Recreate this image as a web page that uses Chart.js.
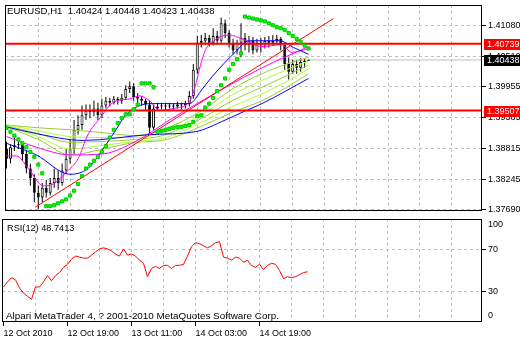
<!DOCTYPE html>
<html><head><meta charset="utf-8">
<script src="https://cdn.jsdelivr.net/npm/chart.js@4.4.1/dist/chart.umd.min.js"></script>
<style>
html,body{margin:0;padding:0;background:#fff;}
#wrap{position:relative;width:520px;height:340px;overflow:hidden;background:#fff;}
canvas{position:absolute;left:0;}
#c1{top:0}
#c2{top:216px}
.t{position:absolute;font-family:'Liberation Sans',Arial,sans-serif;color:#000;white-space:pre;line-height:13px;}
</style></head><body>
<div id="wrap">
<canvas id="c1" width="520" height="216"></canvas>
<canvas id="c2" width="520" height="124"></canvas>
<div class="t" id="title" style="left:7px;top:4px;font-size:9.6px"></div>
<div class="t" id="rsiLabel" style="left:7px;top:222px;font-size:9.2px"></div>
<div class="t" id="copy" style="left:6px;top:309px;font-size:9.9px"></div>
</div>
<script>
// ---------- DATA ----------
const symbol = 'EURUSD,H1';
const copyright = 'Alpari MetaTrader 4, ? 2001-2010 MetaQuotes Software Corp.';
const rsiPeriod = 12;
const timeLabels = ['12 Oct 2010','12 Oct 19:00','13 Oct 11:00','14 Oct 03:00','14 Oct 19:00'];
const timeLabelBars = [0,16,32,48,64];
const priceTicks = [1.37690,1.38245,1.38815,1.39385,1.39955,1.40510,1.41080];
const rsiTickValues = [30,70];
const rsiEdgeLabels = [0,100];
const levelLines = [1.40739,1.39507];
const bidPrice = 1.40438;

const opens = [1.38798,1.38620,1.38834,1.38869,1.38887,1.38709,1.38442,1.38264,1.37997,1.37908,
1.38086,1.37997,1.38175,1.38264,1.38175,1.38406,1.38620,1.38798,1.39154,1.39243,
1.39421,1.39510,1.39474,1.39546,1.39421,1.39599,1.39688,1.39652,1.39724,1.39688,
1.39741,1.39902,1.39955,1.39759,1.39724,1.39688,1.39617,1.39190,1.39546,1.39581,
1.39599,1.39581,1.39599,1.39581,1.39617,1.39599,1.39635,1.39777,1.40258,1.40756,
1.40792,1.40845,1.40756,1.40880,1.40792,1.41112,1.40934,1.40756,1.40614,1.40756,
1.40845,1.40720,1.40792,1.40614,1.40756,1.40720,1.40792,1.40756,1.40792,1.40827,
1.40720,1.40364,1.40222,1.40364,1.40293,1.40400,1.40424];
const highs = [1.38940,1.38887,1.39012,1.38940,1.38887,1.38762,1.38531,1.38335,1.38122,1.38175,
1.38228,1.38264,1.38442,1.38406,1.38531,1.38798,1.38976,1.39332,1.39421,1.39599,
1.39617,1.39617,1.39688,1.39652,1.39724,1.39759,1.39741,1.39777,1.39759,1.39813,
1.39973,1.40044,1.40008,1.39830,1.39777,1.39724,1.39688,1.39617,1.39652,1.39652,
1.39635,1.39652,1.39635,1.39670,1.39652,1.39688,1.39866,1.40364,1.40880,1.40898,
1.40934,1.40898,1.41023,1.40970,1.41219,1.41183,1.40987,1.40827,1.40809,1.41112,
1.40934,1.40880,1.40863,1.40827,1.40845,1.40863,1.40880,1.40898,1.40898,1.40863,
1.40756,1.40489,1.40436,1.40436,1.40471,1.40453,1.40448];
const lows = [1.38442,1.38531,1.38762,1.38798,1.38584,1.38353,1.38122,1.37819,1.37694,1.37819,
1.37908,1.37944,1.38086,1.38050,1.38122,1.38353,1.38531,1.38709,1.39065,1.39154,
1.39332,1.39368,1.39403,1.39332,1.39368,1.39546,1.39581,1.39617,1.39617,1.39635,
1.39706,1.39830,1.39688,1.39652,1.39599,1.39510,1.39065,1.39154,1.39510,1.39528,
1.39510,1.39546,1.39510,1.39546,1.39528,1.39546,1.39581,1.39724,1.40186,1.40667,
1.40720,1.40685,1.40703,1.40720,1.40756,1.40845,1.40667,1.40542,1.40542,1.40489,
1.40614,1.40578,1.40542,1.40578,1.40578,1.40649,1.40667,1.40703,1.40720,1.40614,
1.40258,1.40080,1.40186,1.40186,1.40222,1.40293,1.40423];
const closes = [1.38620,1.38834,1.38869,1.38887,1.38709,1.38442,1.38264,1.37997,1.37908,1.38086,
1.37997,1.38175,1.38264,1.38175,1.38406,1.38620,1.38798,1.39154,1.39243,1.39421,
1.39510,1.39474,1.39546,1.39421,1.39599,1.39688,1.39652,1.39724,1.39688,1.39741,
1.39902,1.39955,1.39759,1.39724,1.39688,1.39617,1.39190,1.39546,1.39581,1.39599,
1.39581,1.39599,1.39581,1.39617,1.39599,1.39635,1.39777,1.40258,1.40756,1.40792,
1.40845,1.40756,1.40880,1.40792,1.41112,1.40934,1.40756,1.40614,1.40756,1.40845,
1.40720,1.40792,1.40614,1.40756,1.40720,1.40792,1.40756,1.40792,1.40827,1.40720,
1.40364,1.40222,1.40364,1.40293,1.40400,1.40424,1.40438];
const sar = [1.39190,1.39118,1.39047,1.38976,1.38905,1.38834,1.38745,1.38656,1.38513,1.38353,
1.37748,1.37748,1.37766,1.37801,1.37837,1.37872,1.37944,1.38033,1.38157,1.38300,
1.38442,1.38513,1.38584,1.38656,1.38745,1.38851,1.39012,1.39154,1.39279,1.39368,
1.39439,1.39439,1.39528,1.39617,1.40008,1.40008,1.40008,1.39937,1.39118,1.39136,
1.39154,1.39172,1.39190,1.39207,1.39207,1.39225,1.39243,1.39296,1.39403,1.39421,
1.39563,1.39635,1.39741,1.39866,1.39973,1.40098,1.40258,1.40364,1.40453,1.40560,
1.41237,1.41219,1.41201,1.41183,1.41166,1.41148,1.41112,1.41077,1.41041,1.41023,
1.40988,1.40934,1.40881,1.40827,1.40774,1.40703,1.40649];
const rsi = [34,39,43,41,33,28,25,22,34,34,
39,45,40,45,48,53,56,61,64,63,
62,62,65,68,71,72,71,69,66,64,
71,65,66,64,60,57,44,52,54,52,
55,55,52,55,55,56,64,73,77,76,
74,72,74,77,78,63,62,60,63,62,
58,60,55,53,56,51,55,57,56,50,
42,44,43,44,46,48,48.7413];

// moving averages read at selected bars
const maFastBars = [0,2.5,5.5,9.25,11.75,15.5,18,20.5,23.5,26.75,31,33.5,36,38.5,42,46,47.5,48.5,50,52.5,56,59.25,64.25,69.25,71.75,76];
const maFastVals = [1.38673,1.38673,1.38442,1.38122,1.38157,1.38406,1.38620,1.39065,1.39368,1.39652,1.39724,1.39777,1.39688,1.39510,1.39546,1.39670,1.39955,1.40258,1.40614,1.40809,1.40898,1.40827,1.40685,1.40720,1.40578,1.40649];
const maMidBars = [0,7.5,16,20.5,24.25,26.75,30,33.5,36.75,46,49.25,51.75,57.5,61,68.75,72.25,76];
const maMidVals = [1.38905,1.38691,1.38335,1.38442,1.38798,1.39065,1.39421,1.39599,1.39635,1.39635,1.39902,1.40133,1.40578,1.40792,1.40792,1.40667,1.40542];
const maSlowBars = [0,7.5,19.25,36,47.5,55,59.25,64.25,76];
const maSlowVals = [1.39207,1.39083,1.38958,1.39065,1.39118,1.39332,1.39474,1.39635,1.40098];
const maPinkBars = [0,7.5,16,24.25,32.5,41,45,64.25,76];
const maPinkVals = [1.39029,1.38834,1.38691,1.38709,1.38940,1.39332,1.39510,1.40293,1.40685];
const ribbonBars = [0,8,16,24.25,32.5,39.25,49.25,56.75,64.25,70.5,76];
const ribbon1 = [1.39243,1.39190,1.39154,1.39100,1.39047,1.39154,1.39510,1.39902,1.40186,1.40364,1.40489];
const ribbon2 = [1.39243,1.39136,1.39029,1.39012,1.39012,1.39100,1.39439,1.39795,1.40062,1.40258,1.40418];
const ribbon3 = [1.39225,1.39083,1.38922,1.38940,1.38976,1.39047,1.39368,1.39688,1.39937,1.40151,1.40347];
const ribbon4 = [1.39225,1.39029,1.38798,1.38869,1.38940,1.38994,1.39296,1.39581,1.39813,1.40044,1.40275];
const ribbon5 = [1.39207,1.38976,1.38691,1.38798,1.38922,1.38958,1.39225,1.39474,1.39688,1.39937,1.40186];
const trendBars = [7.25,82.25];
const trendVals = [1.37730,1.41201];

// ---------- LAYOUT / STYLE ----------
const FONT = "'Liberation Sans',Arial,sans-serif";
const AXIS_FONT = 9;
const GRID = '#c0c0c0';
const CLEAR = 'rgba(0,0,0,0)';
const xMin = -0.375, xMax = 119.625;
const yMin = 1.37659, yMax = 1.41450;
const gridBars = [];
for (let b = 0; b <= 112; b += 8) gridBars.push(b);

const idx = opens.map((_, i) => i);
const pts = (bars, vals) => bars.map((b, i) => ({x: b, y: vals[i]}));
const maLine = (bars, vals, color, order) => ({
  type: 'line', data: pts(bars, vals), borderColor: color, borderWidth: 1,
  pointRadius: 0, fill: false, cubicInterpolationMode: 'monotone', order
});
const hLine = (v, color, width, order) => ({
  type: 'line', data: [{x: xMin, y: v}, {x: xMax, y: v}], borderColor: color,
  borderWidth: width, pointRadius: 0, fill: false, order
});

const framePlugin = {
  id: 'frame',
  afterDraw(chart) {
    const {ctx, chartArea: a} = chart;
    ctx.save();
    ctx.strokeStyle = '#000'; ctx.lineWidth = 1;
    ctx.strokeRect(a.left + 0.5, a.top + 0.5, a.right - a.left - 1, a.bottom - a.top - 1);
    ctx.restore();
  }
};

const boxPlugin = {
  id: 'boxes',
  afterDraw(chart) {
    const {ctx} = chart;
    const ys = chart.scales.y;
    const items = levelLines.map(v => ({v, bg: '#ff0000'})).concat([{v: bidPrice, bg: '#000000'}]);
    ctx.save();
    ctx.font = AXIS_FONT + 'px ' + FONT;
    ctx.textBaseline = 'middle';
    items.forEach(it => {
      const y = Math.round(ys.getPixelForValue(it.v));
      ctx.fillStyle = it.bg;
      ctx.fillRect(484, y - 5, 36, 11);
      ctx.fillStyle = '#fff';
      ctx.fillText(it.v.toFixed(5), 487, y + 0.5);
    });
    ctx.restore();
  }
};

const rsiEdgePlugin = {
  id: 'rsiEdge',
  afterDraw(chart) {
    const {ctx} = chart;
    const ys = chart.scales.y;
    ctx.save();
    ctx.font = AXIS_FONT + 'px ' + FONT;
    ctx.fillStyle = '#000';
    ctx.textBaseline = 'middle';
    rsiEdgeLabels.forEach(v => {
      const y = ys.getPixelForValue(v) + (v >= 100 ? 6 : -6);
      ctx.fillText(String(v), 488, y);
    });
    ctx.restore();
  }
};

// ---------- MAIN PRICE CHART ----------
new Chart(document.getElementById('c1'), {
  type: 'bar',
  data: {
    datasets: [
      hLine(bidPrice, '#c0c0c0', 1, 9),
      {type: 'bar', data: idx.map(i => ({x: i, y: [lows[i], highs[i]]})), backgroundColor: '#000',
       borderWidth: 0, barThickness: 1, grouped: false, inflateAmount: 0, order: 8},
      {type: 'bar', data: idx.map(i => ({x: i, y: [opens[i], closes[i]]})),
       backgroundColor: c => closes[c.dataIndex] >= opens[c.dataIndex] ? '#fff' : '#000',
       borderColor: '#000', borderWidth: 1, borderSkipped: false, barThickness: 3,
       grouped: false, inflateAmount: 0, order: 7},
      maLine(ribbonBars, ribbon5, '#9acd32', 6),
      maLine(ribbonBars, ribbon4, '#adff2f', 6),
      maLine(ribbonBars, ribbon3, '#9acd32', 6),
      maLine(ribbonBars, ribbon2, '#adff2f', 6),
      maLine(ribbonBars, ribbon1, '#9acd32', 6),
      maLine(maSlowBars, maSlowVals, '#0000ff', 5),
      maLine(maPinkBars, maPinkVals, '#ff00ff', 5),
      maLine(maMidBars, maMidVals, '#0000ff', 4),
      maLine(maFastBars, maFastVals, '#ff00ff', 4),
      {type: 'line', data: pts(trendBars, trendVals), borderColor: '#ff0000', borderWidth: 1,
       pointRadius: 0, fill: false, order: 3},
      hLine(levelLines[0], '#ff0000', 2, 2),
      hLine(levelLines[1], '#ff0000', 2, 2),
      {type: 'line', data: idx.map(i => ({x: i, y: sar[i]})), showLine: false,
       pointStyle: 'rect', pointRadius: 2.2, borderWidth: 1,
       backgroundColor: '#00ff00', borderColor: '#00c800', order: 1}
    ]
  },
  options: {
    responsive: false, animation: false, devicePixelRatio: 1,
    layout: {padding: {left: 2, top: 1, right: 0, bottom: 2}},
    plugins: {legend: {display: false}, tooltip: {enabled: false}},
    events: [],
    scales: {
      x: {
        type: 'linear', min: xMin, max: xMax, offset: false,
        afterBuildTicks: s => { s.ticks = gridBars.map(v => ({value: v})); },
        afterFit: s => { s.height = 0; s.paddingLeft = 0; s.paddingRight = 0; },
        ticks: {display: false},
        grid: {color: c => (c.tick && c.tick.value === 0) ? CLEAR : GRID, drawTicks: false, offset: false, lineWidth: 1},
        border: {display: false, dash: [3, 3]}
      },
      y: {
        type: 'linear', position: 'right', min: yMin, max: yMax,
        afterBuildTicks: s => { s.ticks = priceTicks.map(v => ({value: v})); },
        afterFit: s => { s.width = 38; s.paddingTop = 0; s.paddingBottom = 0; },
        ticks: {callback: v => Number(v).toFixed(5), font: {family: FONT, size: AXIS_FONT}, color: '#000', padding: 2},
        grid: {color: GRID, tickColor: '#000', tickLength: 4, tickBorderDash: [], offset: false},
        border: {display: false, dash: [3, 3]}
      }
    }
  },
  plugins: [framePlugin, boxPlugin]
});

// ---------- RSI CHART ----------
new Chart(document.getElementById('c2'), {
  type: 'line',
  data: {
    datasets: [
      {data: idx.map(i => ({x: i, y: rsi[i]})), borderColor: '#ff0000', borderWidth: 1,
       pointRadius: 0, fill: false, tension: 0}
    ]
  },
  options: {
    responsive: false, animation: false, devicePixelRatio: 1,
    layout: {padding: {left: 2, top: 3, right: 0, bottom: 0}},
    plugins: {legend: {display: false}, tooltip: {enabled: false}},
    events: [],
    scales: {
      x: {
        type: 'linear', min: xMin, max: xMax, offset: false,
        afterBuildTicks: s => { s.ticks = gridBars.map(v => ({value: v})); },
        afterFit: s => { s.height = 18; s.paddingLeft = 0; s.paddingRight = 0; },
        ticks: {
          callback: v => { const k = timeLabelBars.indexOf(v); return k >= 0 ? timeLabels[k] : ''; },
          align: 'start', maxRotation: 0, minRotation: 0, autoSkip: false,
          font: {family: FONT, size: AXIS_FONT}, color: '#000', padding: 2
        },
        grid: {
          color: c => (c.tick && c.tick.value === 0) ? CLEAR : GRID,
          tickColor: c => (c.tick && timeLabelBars.includes(c.tick.value)) ? '#000' : CLEAR,
          tickLength: 4, tickBorderDash: [], offset: false
        },
        border: {display: false, dash: [3, 3]}
      },
      y: {
        type: 'linear', position: 'right', min: 0, max: 100,
        afterBuildTicks: s => { s.ticks = rsiTickValues.map(v => ({value: v})); },
        afterFit: s => { s.width = 38; s.paddingTop = 0; s.paddingBottom = 0; },
        ticks: {font: {family: FONT, size: AXIS_FONT}, color: '#000', padding: 2},
        grid: {color: GRID, tickColor: '#000', tickLength: 4, tickBorderDash: [], offset: false},
        border: {display: false, dash: [3, 3]}
      }
    }
  },
  plugins: [framePlugin, rsiEdgePlugin]
});

// ---------- TEXT ----------
const last = opens.length - 1;
document.getElementById('title').textContent =
  symbol + '  ' + [opens[last], highs[last], lows[last], closes[last]].map(v => v.toFixed(5)).join(' ');
document.getElementById('rsiLabel').textContent = 'RSI(' + rsiPeriod + ') ' + rsi[last].toFixed(4);
document.getElementById('copy').textContent = copyright;
</script>
</body></html>
